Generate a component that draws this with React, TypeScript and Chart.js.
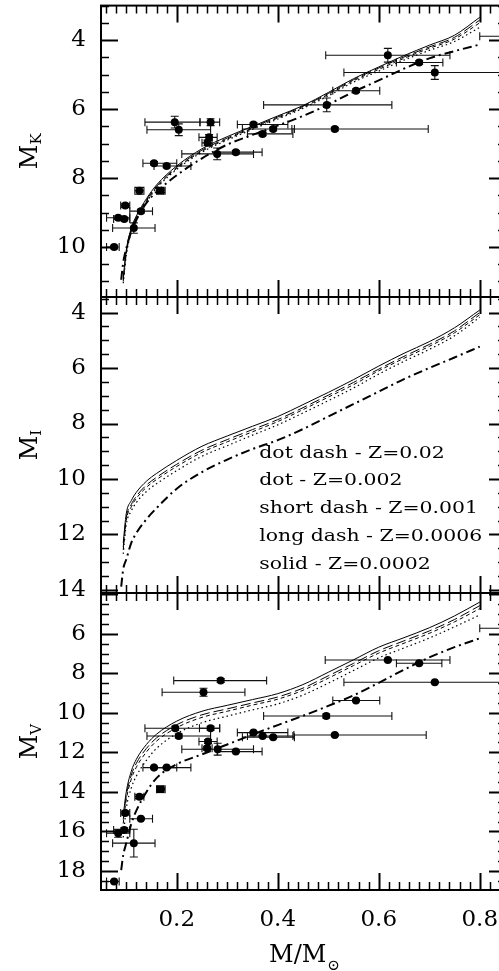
import React, { useEffect, useRef } from 'react';
import { Chart, registerables } from 'chart.js';

Chart.register(...registerables);

// ---------- shared x grid for model curves (M / Msun) ----------
const MASS = [0.09, 0.094, 0.1, 0.11, 0.12, 0.14, 0.16, 0.2, 0.25, 0.3, 0.35, 0.4, 0.45, 0.5, 0.55, 0.6, 0.65, 0.7, 0.75, 0.8];

// ---------- M_K model curves ----------
const K_SOLID = [null, 10.9, 10.1, 9.45, 9.1, 8.6, 8.2, 7.65, 7.15, 6.8, 6.5, 6.2, 5.9, 5.52, 5.12, 4.78, 4.45, 4.15, 3.86, 3.34];
const K_LONG = [null, 10.95, 10.15, 9.5, 9.14, 8.64, 8.24, 7.69, 7.19, 6.84, 6.53, 6.23, 5.92, 5.55, 5.15, 4.81, 4.49, 4.2, 3.92, 3.42];
const K_SHORT = [null, 11.0, 10.2, 9.53, 9.17, 8.67, 8.27, 7.72, 7.22, 6.87, 6.56, 6.26, 5.95, 5.58, 5.18, 4.85, 4.53, 4.24, 3.97, 3.5];
const K_DOT = [null, 11.05, 10.25, 9.57, 9.21, 8.7, 8.3, 7.75, 7.25, 6.9, 6.59, 6.29, 5.98, 5.62, 5.22, 4.9, 4.58, 4.3, 4.04, 3.63];
const K_DOTDASH = [10.95, 10.45, 10.05, 9.55, 9.22, 8.72, 8.4, 7.92, 7.43, 7.03, 6.75, 6.48, 6.2, 5.87, 5.5, 5.17, 4.83, 4.53, 4.32, 4.13];

// ---------- M_I model curves ----------
const I_SOLID = [null, 12.3, 11.25, 10.78, 10.48, 10.08, 9.8, 9.33, 8.82, 8.45, 8.1, 7.75, 7.32, 6.88, 6.42, 5.93, 5.47, 5.05, 4.55, 3.91];
const I_LONG = [null, 12.45, 11.4, 10.92, 10.62, 10.22, 9.94, 9.47, 8.96, 8.58, 8.22, 7.86, 7.43, 6.98, 6.52, 6.04, 5.58, 5.15, 4.66, 4.0];
const I_SHORT = [null, 12.55, 11.5, 11.0, 10.7, 10.3, 10.02, 9.55, 9.04, 8.66, 8.3, 7.93, 7.5, 7.05, 6.6, 6.1, 5.65, 5.22, 4.73, 4.08];
const I_DOT = [null, 12.7, 11.65, 11.15, 10.85, 10.45, 10.17, 9.7, 9.18, 8.8, 8.42, 8.05, 7.62, 7.18, 6.72, 6.22, 5.76, 5.33, 4.84, 4.17];
const I_DOTDASH = [13.88, 13.25, 12.9, 12.3, 11.95, 11.45, 11.05, 10.35, 9.75, 9.3, 8.92, 8.6, 8.2, 7.75, 7.3, 6.85, 6.4, 6.0, 5.62, 5.23];

// ---------- M_V model curves ----------
const V_SOLID = [null, 15.2, 14.0, 12.95, 12.35, 11.6, 11.08, 10.42, 9.92, 9.62, 9.33, 9.03, 8.57, 7.95, 7.32, 6.68, 6.2, 5.7, 5.1, 4.4];
const V_LONG = [null, 15.4, 14.2, 13.15, 12.55, 11.8, 11.27, 10.6, 10.1, 9.8, 9.5, 9.2, 8.75, 8.13, 7.5, 6.86, 6.36, 5.86, 5.28, 4.58];
const V_SHORT = [null, 15.6, 14.4, 13.35, 12.75, 11.98, 11.43, 10.75, 10.23, 9.92, 9.61, 9.31, 8.86, 8.25, 7.61, 6.98, 6.48, 5.98, 5.4, 4.73];
const V_DOT = [null, 16.3, 14.85, 13.8, 13.2, 12.4, 11.8, 11.05, 10.5, 10.17, 9.85, 9.55, 9.1, 8.5, 7.86, 7.22, 6.72, 6.22, 5.65, 5.05];
const V_DOTDASH = [17.95, 17.2, 16.6, 15.6, 14.95, 14.0, 13.3, 12.6, 12.1, 11.6, 11.1, 10.62, 10.15, 9.65, 9.12, 8.48, 7.82, 7.2, 6.68, 6.23];

// ---------- observed stars, M_K panel ----------
const K_X = [0.196, 0.204, 0.267, 0.264, 0.261, 0.28, 0.317, 0.155, 0.18, 0.126, 0.168, 0.098, 0.129, 0.084, 0.096, 0.115, 0.076, 0.618, 0.68, 0.711, 0.555, 0.497, 0.513, 0.352, 0.37, 0.391, 0.9];
const K_Y = [6.38, 6.6, 6.38, 6.82, 6.98, 7.3, 7.25, 7.57, 7.65, 8.37, 8.37, 8.8, 8.96, 9.15, 9.19, 9.45, 10.0, 4.44, 4.65, 4.94, 5.47, 5.88, 6.58, 6.45, 6.72, 6.58, 3.89];
const K_XLO = [0.137, 0.141, 0.246, 0.244, 0.25, 0.21, 0.28, 0.133, 0.155, 0.117, 0.16, 0.089, 0.107, 0.061, 0.075, 0.073, 0.061, 0.495, 0.635, 0.531, 0.509, 0.372, 0.428, 0.32, 0.34, 0.33, 0.8];
const K_XHI = [0.246, 0.267, 0.285, 0.28, 0.27, 0.352, 0.369, 0.2, 0.228, 0.135, 0.177, 0.107, 0.152, 0.107, 0.107, 0.157, 0.086, 0.741, 0.727, 0.95, 0.602, 0.626, 0.698, 0.42, 0.43, 0.433, 1.0];
const K_YERR = [0.17, 0.17, 0.1, 0.08, 0.08, 0.17, 0.05, 0.05, 0.05, 0.1, 0.05, 0.05, 0.05, 0.05, 0.05, 0.15, 0.05, 0.2, 0.05, 0.2, 0.05, 0.2, 0.05, 0.05, 0.05, 0.05, 0.05];
const K_SQUARE = [10];

// ---------- observed stars, M_V panel ----------
const V_X = [0.287, 0.253, 0.197, 0.204, 0.267, 0.262, 0.26, 0.281, 0.317, 0.155, 0.18, 0.168, 0.126, 0.098, 0.129, 0.084, 0.096, 0.115, 0.076, 0.618, 0.68, 0.711, 0.555, 0.496, 0.513, 0.352, 0.37, 0.391, 0.9];
const V_Y = [8.37, 8.96, 10.78, 11.17, 10.78, 11.45, 11.79, 11.84, 11.96, 12.77, 12.77, 13.86, 14.24, 15.07, 15.36, 16.09, 15.92, 16.59, 18.53, 7.33, 7.49, 8.45, 9.38, 10.16, 11.12, 11.0, 11.17, 11.23, 5.72];
const V_XLO = [0.194, 0.171, 0.137, 0.141, 0.245, 0.244, 0.25, 0.21, 0.28, 0.133, 0.155, 0.16, 0.117, 0.089, 0.107, 0.061, 0.075, 0.073, 0.061, 0.494, 0.635, 0.531, 0.509, 0.372, 0.432, 0.32, 0.34, 0.33, 0.8];
const V_XHI = [0.378, 0.335, 0.285, 0.267, 0.285, 0.28, 0.27, 0.352, 0.369, 0.2, 0.228, 0.177, 0.135, 0.107, 0.152, 0.107, 0.107, 0.157, 0.086, 0.741, 0.725, 0.95, 0.602, 0.626, 0.694, 0.42, 0.43, 0.433, 1.0];
const V_YERR = [0.1, 0.2, 0.1, 0.1, 0.1, 0.1, 0.1, 0.3, 0.05, 0.05, 0.05, 0.05, 0.1, 0.1, 0.05, 0.2, 0.1, 0.7, 0.05, 0.05, 0.05, 0.05, 0.05, 0.1, 0.05, 0.05, 0.05, 0.05, 0.05];
const V_SQUARE = [11];

// ---------- axes ----------
const X_MIN = 0.05;
const X_MAX = 0.852;
const X_TICKS = [0.2, 0.4, 0.6, 0.8];
const X_MINOR = 0.02;
const K_TICKS = [4, 6, 8, 10];
const I_TICKS = [4, 6, 8, 10, 12, 14];
const V_TICKS = [6, 8, 10, 12, 14, 16, 18];
const Y_MINOR = 0.5;
const Y_MAJOR = 2;

const LEGEND_LABELS = ['dot dash - Z=0.02', 'dot - Z=0.002', 'short dash - Z=0.001', 'long dash - Z=0.0006', 'solid - Z=0.0002'];
const LEGEND_X = 0.3635;
const LEGEND_Y0 = 9.07;
const LEGEND_STEP = 1.0;

const FONT = '"DejaVu Serif", "Liberation Serif", serif';

const CURVE_STYLES = [
  { dash: [] as number[], w: 1 },
  { dash: [10, 4], w: 1 },
  { dash: [4, 3], w: 1 },
  { dash: [1.5, 3], w: 1.2 },
  { dash: [9, 4, 2, 4], w: 2 },
];

type Pts = { x: number[]; y: number[]; xlo: number[]; xhi: number[]; yerr: number[]; square: number[] };
type Panel = {
  yMin: number; yMax: number; yTicks: number[];
  curves: (number | null)[][];
  pts?: Pts;
  sub: string;
  showX: boolean;
  legend: boolean;
  padTop: number; padBottom: number;
  top: number; height: number;
};

const PANELS: Panel[] = [
  { yMin: 3.0, yMax: 11.45, yTicks: K_TICKS, curves: [K_SOLID, K_LONG, K_SHORT, K_DOT, K_DOTDASH],
    pts: { x: K_X, y: K_Y, xlo: K_XLO, xhi: K_XHI, yerr: K_YERR, square: K_SQUARE },
    sub: 'K', showX: false, legend: false, padTop: 3, padBottom: 13, top: 0, height: 310 },
  { yMin: 3.44, yMax: 14.11, yTicks: I_TICKS, curves: [I_SOLID, I_LONG, I_SHORT, I_DOT, I_DOTDASH],
    sub: 'I', showX: false, legend: true, padTop: 13, padBottom: 13, top: 284, height: 322 },
  { yMin: 3.94, yMax: 18.96, yTicks: V_TICKS, curves: [V_SOLID, V_LONG, V_SHORT, V_DOT, V_DOTDASH],
    pts: { x: V_X, y: V_Y, xlo: V_XLO, xhi: V_XHI, yerr: V_YERR, square: V_SQUARE },
    sub: 'V', showX: true, legend: false, padTop: 13, padBottom: 0, top: 580, height: 391 },
];

const CW = 520;

function makeChart(canvas: HTMLCanvasElement, p: Panel) {
  const datasets: any[] = p.curves.map((arr, k) => ({
    data: MASS.map((m, i) => ({ x: m, y: arr[i] })).filter((d) => d.y !== null),
    showLine: true,
    borderColor: '#000',
    borderWidth: CURVE_STYLES[k].w,
    borderDash: CURVE_STYLES[k].dash,
    pointRadius: 0,
    fill: false,
    cubicInterpolationMode: 'monotone',
  }));
  if (p.pts) {
    const pts = p.pts;
    datasets.push({
      data: pts.x.map((x, i) => ({ x, y: pts.y[i] })),
      showLine: false,
      backgroundColor: '#000',
      borderColor: '#000',
      borderWidth: 0,
      pointStyle: (c: any) => (pts.square.includes(c.dataIndex) ? 'rect' : 'circle'),
      pointRadius: (c: any) => (pts.square.includes(c.dataIndex) ? 5.6 : 4),
    });
  }

  const decor = {
    id: 'decor',
    beforeDatasetsDraw(chart: any) {
      if (!p.pts) return;
      const pts = p.pts;
      const { ctx, chartArea: a, scales } = chart;
      const xs = scales.x, ys = scales.y;
      const CAP = 4;
      ctx.save();
      ctx.beginPath();
      ctx.rect(a.left, a.top, a.right - a.left, a.bottom - a.top);
      ctx.clip();
      ctx.strokeStyle = '#111';
      ctx.lineWidth = 1.1;
      pts.x.forEach((xv, i) => {
        const px = xs.getPixelForValue(xv);
        const py = ys.getPixelForValue(pts.y[i]);
        const x0 = xs.getPixelForValue(pts.xlo[i]);
        const x1 = xs.getPixelForValue(pts.xhi[i]);
        const y0 = ys.getPixelForValue(pts.y[i] - pts.yerr[i]);
        const y1 = ys.getPixelForValue(pts.y[i] + pts.yerr[i]);
        ctx.beginPath();
        ctx.moveTo(x0, py); ctx.lineTo(x1, py);
        ctx.moveTo(x0, py - CAP); ctx.lineTo(x0, py + CAP);
        ctx.moveTo(x1, py - CAP); ctx.lineTo(x1, py + CAP);
        ctx.moveTo(px, y0); ctx.lineTo(px, y1);
        ctx.moveTo(px - CAP, y0); ctx.lineTo(px + CAP, y0);
        ctx.moveTo(px - CAP, y1); ctx.lineTo(px + CAP, y1);
        ctx.stroke();
      });
      ctx.restore();
    },
    afterDraw(chart: any) {
      const { ctx, chartArea: a, scales } = chart;
      const xs = scales.x, ys = scales.y;
      ctx.save();
      ctx.strokeStyle = '#000';
      // x ticks (top & bottom, inward)
      const kx0 = Math.ceil(X_MIN / X_MINOR - 1e-9), kx1 = Math.floor(X_MAX / X_MINOR + 1e-9);
      for (let k = kx0; k <= kx1; k++) {
        const v = k * X_MINOR;
        const major = X_TICKS.some((t) => Math.abs(t - v) < 1e-6);
        const len = major ? 17 : 8;
        const px = Math.round(xs.getPixelForValue(v)) + 0.5;
        ctx.lineWidth = major ? 2 : 1.5;
        ctx.beginPath();
        ctx.moveTo(px, a.top); ctx.lineTo(px, a.top + len);
        ctx.moveTo(px, a.bottom); ctx.lineTo(px, a.bottom - len);
        ctx.stroke();
      }
      // y ticks (left & right, inward)
      const ky0 = Math.ceil(p.yMin / Y_MINOR - 1e-9), ky1 = Math.floor(p.yMax / Y_MINOR + 1e-9);
      for (let k = ky0; k <= ky1; k++) {
        const v = k * Y_MINOR;
        const major = Math.abs(v / Y_MAJOR - Math.round(v / Y_MAJOR)) < 1e-6;
        const len = major ? 17 : 8;
        const py = Math.round(ys.getPixelForValue(v)) + 0.5;
        ctx.lineWidth = major ? 2 : 1.5;
        ctx.beginPath();
        ctx.moveTo(a.left, py); ctx.lineTo(a.left + len, py);
        ctx.moveTo(a.right, py); ctx.lineTo(a.right - len, py);
        ctx.stroke();
      }
      // frame
      ctx.lineWidth = 2;
      ctx.strokeRect(a.left, a.top, a.right - a.left, a.bottom - a.top);

      ctx.fillStyle = '#000';
      // y-axis title: M with subscript
      ctx.save();
      ctx.translate(37, (a.top + a.bottom) / 2);
      ctx.rotate(-Math.PI / 2);
      ctx.textBaseline = 'alphabetic';
      ctx.textAlign = 'left';
      ctx.font = `24px ${FONT}`;
      const wM = ctx.measureText('M').width;
      ctx.font = `15px ${FONT}`;
      const wS = ctx.measureText(p.sub).width;
      const tot = wM + wS;
      ctx.font = `24px ${FONT}`;
      ctx.fillText('M', -tot / 2, 0);
      ctx.font = `15px ${FONT}`;
      ctx.fillText(p.sub, -tot / 2 + wM, 4);
      ctx.restore();

      // legend text (horizontally stretched to match the wide original face)
      if (p.legend) {
        ctx.font = `17px ${FONT}`;
        ctx.textBaseline = 'middle';
        ctx.textAlign = 'left';
        const lx = xs.getPixelForValue(LEGEND_X);
        LEGEND_LABELS.forEach((s, i) => {
          ctx.save();
          ctx.translate(lx, ys.getPixelForValue(LEGEND_Y0 + i * LEGEND_STEP));
          ctx.scale(1.2, 1);
          ctx.fillText(s, 0, 0);
          ctx.restore();
        });
      }

      // x-axis title
      if (p.showX) {
        ctx.textAlign = 'left';
        ctx.textBaseline = 'alphabetic';
        ctx.font = `24px ${FONT}`;
        const main = 'M/M';
        const w1 = ctx.measureText(main).width;
        ctx.font = `15px ${FONT}`;
        const w2 = ctx.measureText('\u2299').width;
        const x0 = 304 - (w1 + w2) / 2;
        ctx.font = `24px ${FONT}`;
        ctx.fillText(main, x0, a.bottom + 72);
        ctx.font = `15px ${FONT}`;
        ctx.textBaseline = 'middle';
        ctx.fillText('\u2299', x0 + w1 + 1, a.bottom + 76);
      }
      ctx.restore();
    },
  };

  return new Chart(canvas, {
    type: 'scatter',
    data: { datasets },
    options: {
      responsive: false,
      animation: false,
      events: [],
      layout: { padding: { top: p.padTop, bottom: p.padBottom, left: 0, right: 14 } },
      plugins: { legend: { display: false }, tooltip: { enabled: false } },
      scales: {
        x: {
          type: 'linear',
          min: X_MIN,
          max: X_MAX,
          display: p.showX,
          grid: { display: false, drawTicks: false },
          border: { display: false },
          ticks: { color: '#000', font: { family: FONT, size: 23 }, padding: 16, maxRotation: 0 },
          afterBuildTicks: (s: any) => { s.ticks = X_TICKS.map((v) => ({ value: v })); },
          afterFit: (s: any) => {
            s.height = p.showX ? 81 : 0;
            s.paddingLeft = 0; s.paddingRight = 0;
          },
        },
        y: {
          type: 'linear',
          reverse: true,
          min: p.yMin,
          max: p.yMax,
          grid: { display: false, drawTicks: false },
          border: { display: false },
          ticks: { color: '#000', font: { family: FONT, size: 23 }, padding: 15 },
          afterBuildTicks: (s: any) => { s.ticks = p.yTicks.map((v) => ({ value: v })); },
          afterFit: (s: any) => { s.width = 101; s.paddingTop = 0; s.paddingBottom = 0; },
        },
      },
    } as any,
    plugins: [decor],
  });
}

export default function App() {
  const r0 = useRef<HTMLCanvasElement>(null);
  const r1 = useRef<HTMLCanvasElement>(null);
  const r2 = useRef<HTMLCanvasElement>(null);

  useEffect(() => {
    const refs = [r0, r1, r2];
    const charts = PANELS.map((p, i) => makeChart(refs[i].current as HTMLCanvasElement, p));
    return () => charts.forEach((c) => c.destroy());
  }, []);

  const refs = [r0, r1, r2];
  return (
    <div style={{ position: 'fixed', left: 0, top: 0, width: 499, height: 971, overflow: 'hidden', background: '#fff' }}>
      {PANELS.map((p, i) => (
        <canvas
          key={i}
          ref={refs[i]}
          width={CW}
          height={p.height}
          style={{ position: 'absolute', left: 0, top: p.top, width: CW, height: p.height }}
        />
      ))}
    </div>
  );
}
